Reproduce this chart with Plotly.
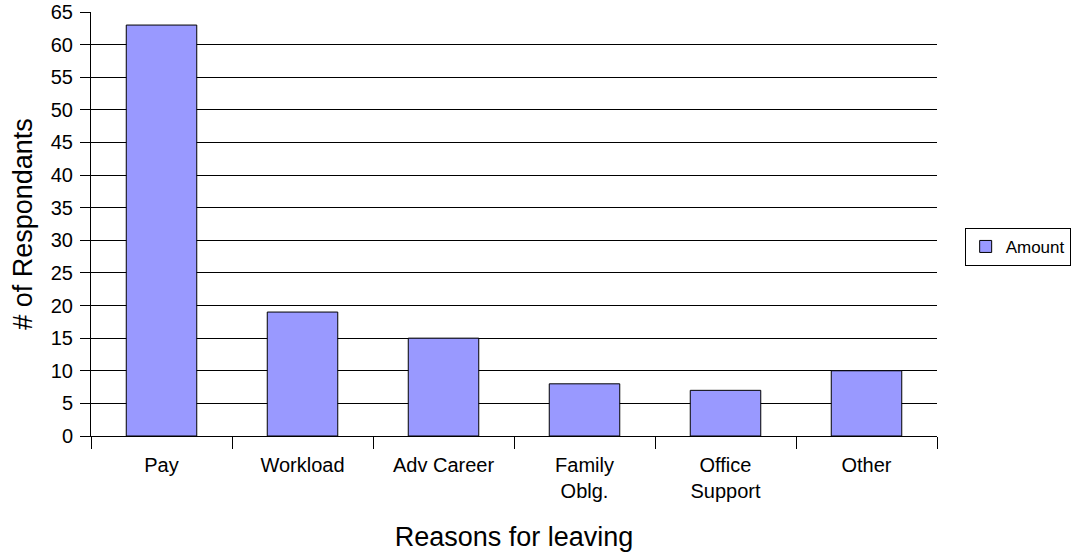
import plotly.graph_objects as go

categories = ["Pay", "Workload", "Adv Career", "Family<br>Oblg.", "Office<br>Support", "Other"]
amounts = [63, 19, 15, 8, 7, 10]
series_name = "Amount"
y_ticks = list(range(0, 66, 5))

fig = go.Figure()
fig.add_trace(go.Bar(
    x=categories, y=amounts, name=series_name, width=0.5,
    marker=dict(color="#9999FF", line=dict(color="#000000", width=1)),
    showlegend=True,
))

font_family = "Liberation Sans, Arial, sans-serif"
fig.update_layout(
    width=1088, height=554,
    margin=dict(l=91, r=151, t=12, b=118),
    plot_bgcolor="white", paper_bgcolor="white",
    font=dict(family=font_family, color="#000000", size=20),
    showlegend=True,
    legend=dict(
        x=1.158, y=0.446, xanchor="right", yanchor="middle",
        bordercolor="#000000", borderwidth=1, bgcolor="white",
        font=dict(size=17), itemwidth=30,
    ),
    xaxis=dict(
        title=dict(text="Reasons for leaving", font=dict(size=27), standoff=26),
        showline=True, linecolor="#000000", linewidth=1,
        ticks="outside", tickson="boundaries", ticklen=12, tickcolor="#000000",
        ticklabelstandoff=11, automargin=False,
        showgrid=False, tickfont=dict(size=20),
    ),
    yaxis=dict(
        title=dict(text="# of Respondants", font=dict(size=27), standoff=10),
        range=[0, 65], tickvals=y_ticks,
        showline=True, linecolor="#000000", linewidth=1,
        ticks="outside", ticklen=10, tickcolor="#000000",
        ticklabelstandoff=3, automargin=False,
        showgrid=True, gridcolor="#000000", gridwidth=1,
        zeroline=False, tickfont=dict(size=20),
    ),
)

fig.write_html("out.html", config={"displayModeBar": False},
               post_script="document.body.style.margin='0';")
